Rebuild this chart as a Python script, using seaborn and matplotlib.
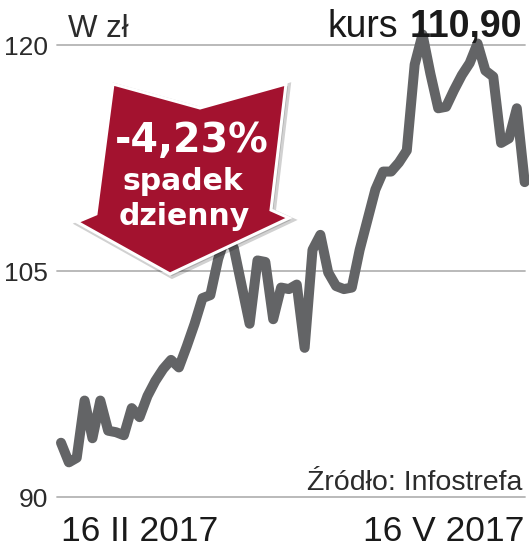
import matplotlib
matplotlib.use("Agg")
import matplotlib.font_manager as fm
import matplotlib.patches as patches
import matplotlib.pyplot as plt
import pandas as pd
import seaborn as sns

# Stock price, one value per session, 16 II 2017 - 16 V 2017
prices = [93.6, 92.3, 92.6, 96.4, 93.9, 96.4, 94.4, 94.3, 94.1, 95.9,
          95.3, 96.7, 97.7, 98.5, 99.1, 98.6, 100.0, 101.5, 103.2, 103.4,
          105.8, 107.4, 106.5, 104.0, 101.5, 105.7, 105.6, 101.8, 103.9, 103.8,
          104.1, 99.9, 106.4, 107.4, 104.9, 104.0, 103.8, 103.9, 106.4, 108.4,
          110.4, 111.6, 111.6, 112.2, 113.0, 118.7, 120.7, 118.1, 115.8, 115.9,
          117.0, 118.0, 118.8, 120.1, 118.3, 117.9, 113.5, 113.8, 115.8, 110.9]
y_ticks = [90, 105, 120]
date_labels = ["16 II 2017", "16 V 2017"]
last_price = "110,90"
daily_change = "-4,23%"

W, H = 529, 549

sns.set_style("white")
names = {f.name for f in fm.fontManager.ttflist}
narrow = "Liberation Sans Narrow" in names
plt.rcParams["font.family"] = ["Liberation Sans", "DejaVu Sans"]
label_font = "Liberation Sans Narrow" if narrow else "Liberation Sans"
ytick_size = 22.5 if narrow else 19
date_size = 31 if narrow else 25.5


def fx(px):
    return px / W


def fy(py):
    return 1 - py / H


df = pd.DataFrame({"session": range(len(prices)), "price": prices})

fig = plt.figure(figsize=(W / 100, H / 100), dpi=100)
ax = fig.add_axes([fx(57), fy(497), (525 - 57) / W, (497 - 20) / H])

for v in y_ticks:
    ax.axhline(v, color="#b4b4b4", lw=1.3, zorder=1)

sns.lineplot(data=df, x="session", y="price", ax=ax, color="#636466", lw=7.2,
             solid_joinstyle="round", solid_capstyle="round", zorder=2)
for ln in ax.lines:
    ln.set_clip_on(False)

ax.set_xlim(-0.509, 59.04)
ax.set_ylim(90, 121.66)
sns.despine(ax=ax, left=True, bottom=True)
ax.set_xlabel("")
ax.set_ylabel("")

ax.set_yticks(y_ticks, labels=[str(v) for v in y_ticks])
ax.tick_params(axis="y", length=0, pad=6.5, labelsize=ytick_size, labelcolor="#2b2b2b")
for t in ax.get_yticklabels():
    t.set_fontfamily(label_font)

ax.set_xticks([0, len(prices) - 1], labels=date_labels)
ax.tick_params(axis="x", length=0, pad=13, labelsize=date_size, labelcolor="#1a1a1a")
xl = ax.get_xticklabels()
xl[0].set_ha("left")
xl[1].set_ha("right")
for t in xl:
    t.set_fontfamily(label_font)

# red arrow badge
arrow_px = [(113, 84), (200, 108), (286, 84), (271, 210), (289, 218),
            (170, 274), (77, 222), (96, 214)]
shadow = patches.Polygon([(fx(x + 2), fy(y + 2)) for x, y in arrow_px], closed=True,
                         transform=fig.transFigure, facecolor="#000000", alpha=0.18,
                         edgecolor="#000000", lw=4, zorder=4, clip_on=False)
ax.add_patch(shadow)
badge = patches.Polygon([(fx(x), fy(y)) for x, y in arrow_px], closed=True,
                        transform=fig.transFigure, facecolor="#a3122f",
                        edgecolor="white", lw=2.2, joinstyle="miter", zorder=5, clip_on=False)
ax.add_patch(badge)

ax.text(fx(192), fy(152), daily_change, transform=fig.transFigure, ha="center",
        va="baseline", fontsize=28.5, fontweight="bold", color="white",
        family="DejaVu Sans", zorder=6)
ax.text(fx(183), fy(190), "spadek", transform=fig.transFigure, ha="center",
        va="baseline", fontsize=21.5, fontweight="bold", color="white",
        family="DejaVu Sans", zorder=6)
ax.text(fx(184), fy(225), "dzienny", transform=fig.transFigure, ha="center",
        va="baseline", fontsize=21.5, fontweight="bold", color="white",
        family="DejaVu Sans", zorder=6)

# header and source
fig.text(fx(68), fy(37), "W zł", ha="left", va="baseline", fontsize=22.5,
         color="#2b2b2b")
bold = fig.text(fx(522), fy(37), last_price, ha="right", va="baseline",
                fontsize=27, fontweight="bold", color="#1a1a1a")
fig.canvas.draw()
bb = bold.get_window_extent(fig.canvas.get_renderer())
fig.text(fx(bb.x0 - 11), fy(37), "kurs", ha="right", va="baseline",
         fontsize=27, color="#1a1a1a")
fig.text(fx(522), fy(490), "Źródło: Infostrefa", ha="right", va="baseline",
         fontsize=20.5, color="#2b2b2b")

fig.savefig("out.png", dpi=100)
